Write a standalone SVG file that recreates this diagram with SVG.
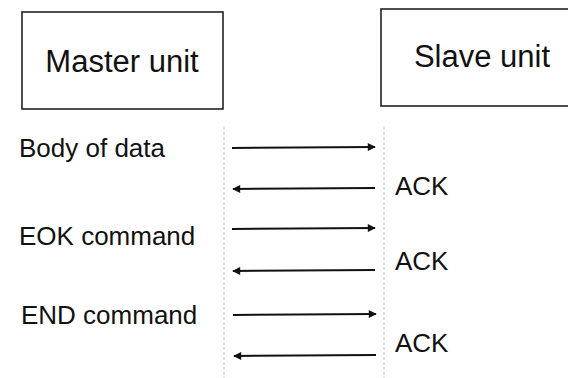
<svg xmlns="http://www.w3.org/2000/svg" width="568" height="378" viewBox="0 0 568 378">
<style>
.box{fill:#fff;stroke:#222;stroke-width:1.6}
.t{font-family:"Liberation Sans",Arial,sans-serif;fill:#111}
.big{font-size:31px}
.lbl{font-size:26px}
.life{stroke:#bbb;stroke-width:1;stroke-dasharray:3 2}
.msg{stroke:#111;stroke-width:2;fill:none}
</style>
<defs>
<marker id="ah" viewBox="0 0 10 10" refX="9" refY="5" markerWidth="5" markerHeight="4" orient="auto" markerUnits="strokeWidth">
<path d="M0,0 L10,5 L0,10 Z" fill="#111"/>
</marker>
</defs>
<rect width="568" height="378" fill="#fff"/>
<g id="master">
<rect class="box" x="22" y="12" width="201" height="97"/>
<text class="t big" x="122" y="72" text-anchor="middle">Master unit</text>
</g>
<g id="slave">
<rect class="box" x="381" y="9" width="200" height="97"/>
<text class="t big" x="482" y="67" text-anchor="middle">Slave unit</text>
</g>
<g id="labels">
<text class="t lbl" x="19" y="157">Body of data</text>
<text class="t lbl" x="19" y="245">EOK command</text>
<text class="t lbl" x="21" y="324">END command</text>
<text class="t lbl" x="395" y="195">ACK</text>
<text class="t lbl" x="395" y="270">ACK</text>
<text class="t lbl" x="395" y="352">ACK</text>
</g>
<g id="connectors">
<line class="life" x1="224" y1="127" x2="224" y2="378"/>
<line class="life" x1="384" y1="127" x2="384" y2="378"/>
<line class="msg" x1="232" y1="148" x2="375" y2="147" marker-end="url(#ah)"/>
<line class="msg" x1="375" y1="188" x2="233" y2="189" marker-end="url(#ah)"/>
<line class="msg" x1="232" y1="229" x2="375" y2="228" marker-end="url(#ah)"/>
<line class="msg" x1="375" y1="270" x2="233" y2="271" marker-end="url(#ah)"/>
<line class="msg" x1="233" y1="315" x2="376" y2="314" marker-end="url(#ah)"/>
<line class="msg" x1="376" y1="355" x2="234" y2="356" marker-end="url(#ah)"/>
</g>
</svg>
